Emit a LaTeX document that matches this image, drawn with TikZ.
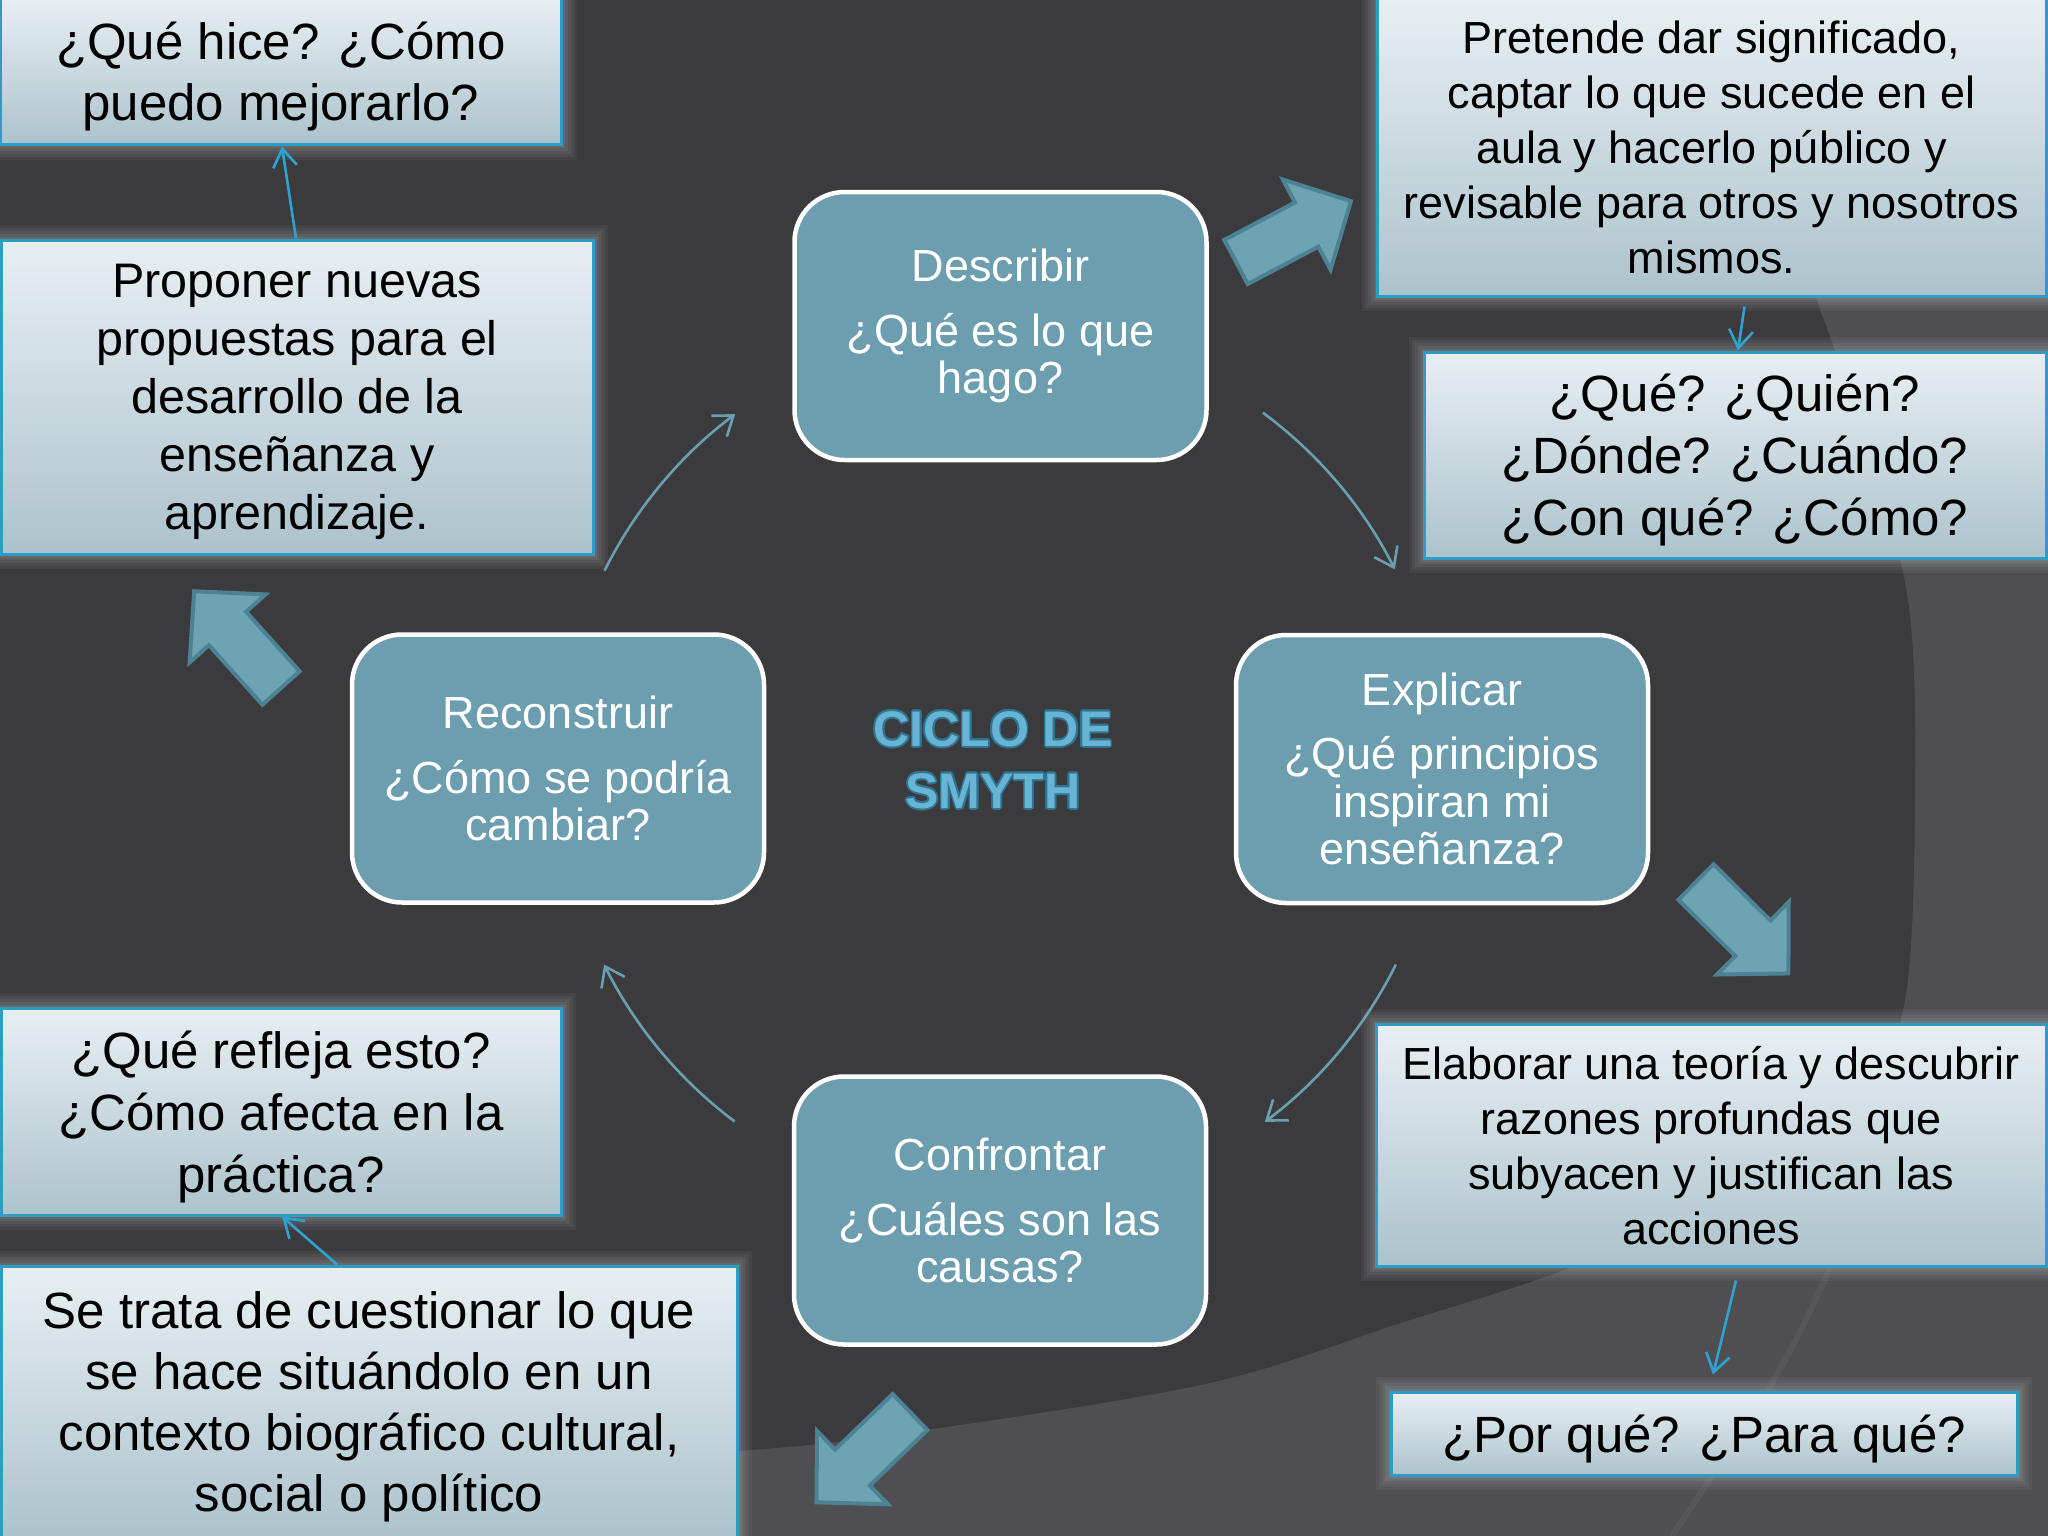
\documentclass[tikz,border=0pt]{standalone}
\usepackage{fontspec}
\setmainfont{Liberation Sans}
\usepackage{contour}
\contourlength{1.6pt}
\usetikzlibrary{arrows.meta,calc}

\definecolor{bgdark}{HTML}{3B3A3C}
\definecolor{bglight}{HTML}{4F4E51}
\definecolor{cyclefill}{HTML}{6C9EB0}
\definecolor{blockfill}{HTML}{6EA3B4}
\definecolor{blockedge}{HTML}{4C8293}
\definecolor{cyclearrow}{HTML}{6A9FB2}
\definecolor{linkblue}{HTML}{2EA3D2}
\definecolor{boxedge}{HTML}{2F9CC6}
\definecolor{glowgray}{HTML}{B4B6B9}
\definecolor{lb0}{HTML}{DAE6EB}
\definecolor{lb1}{HTML}{A6BDC8}
\definecolor{lb2}{HTML}{A9C0CA}
\definecolor{lb3}{HTML}{E2EBEF}
\definecolor{lb4}{HTML}{FDFEFE}
\definecolor{titleblue}{HTML}{67B4D4}
\definecolor{titleedge}{HTML}{2F7592}

\pgfdeclareverticalshading{lboxshade}{100bp}{color(0bp)=(lb0); color(7bp)=(lb1); color(22bp)=(lb2); color(70bp)=(lb3); color(100bp)=(lb4)}

\tikzset{
  lightbox/.style={rectangle, draw=boxedge, line width=3pt, shade, shading=lboxshade,
    align=center, inner sep=0pt, text=black, text depth=0pt,
    preaction={draw=glowgray, draw opacity=0.08, line width=30pt},
    preaction={draw=glowgray, draw opacity=0.08, line width=24pt},
    preaction={draw=glowgray, draw opacity=0.09, line width=18pt},
    preaction={draw=glowgray, draw opacity=0.10, line width=12pt},
    preaction={draw=glowgray, draw opacity=0.12, line width=7pt}},
  cyclebox/.style={rectangle, rounded corners=50pt, draw=white, line width=4.5pt,
    fill=cyclefill, text=white, align=center, inner sep=0pt,
    minimum width=412pt, minimum height=268pt, font=\fontsize{45}{47.5}\selectfont},
  cyclink/.style={draw=cyclearrow, line width=2.6pt,
    -{Straight Barb[length=18pt,width=26pt]}},
  boxlink/.style={draw=linkblue, line width=2.6pt,
    -{Straight Barb[length=18pt,width=24pt]}},
  bigarrow/.style={fill=blockfill, draw=blockedge, line width=4pt, line join=miter}
}

\newcommand\bigarrowat[2]{%
  \draw[bigarrow, shift={#1}, rotate=#2]
    (0,-25) -- (80,-25) -- (80,-51) -- (130,0) -- (80,51) -- (80,25) -- (0,25) -- cycle;}

\begin{document}
\begin{tikzpicture}[x=1pt,y=1pt]
\useasboundingbox (0,0) rectangle (2048,-1536);
% background
\fill[bgdark] (0,0) rectangle (2048,-1536);
\fill[bglight] plot[smooth, tension=0.55] coordinates {(0,-1478) (400,-1468) (738,-1451)
  (926,-1430) (1210,-1383) (1401,-1323) (1570,-1268) (1750,-1190) (1860,-1100)
  (1905,-1000) (1915,-800) (1908,-600) (1860,-420) (1817,-300) (1760,-120) (1735,0)}
  -- (2048,0) -- (2048,-1536) -- (0,-1536) -- cycle;
\draw[white, opacity=0.05, line width=6pt] (1860,-1200) .. controls (1790,-1360) .. (1672,-1536);

% cycle centre and arcs
\coordinate (cyc) at (1000,-768);
\coordinate (c1) at ($(cyc)+(153.5:442)$);
\coordinate (c2) at ($(cyc)+(53.5:442)$);
\coordinate (c3) at ($(cyc)+(-26.4:442)$);
\coordinate (c4) at ($(cyc)+(-126.9:442)$);
\draw[cyclink] (c1) arc[start angle=153.5, end angle=126.8, radius=442];
\draw[cyclink] (c2) arc[start angle=53.5, end angle=26.7, radius=442];
\draw[cyclink] (c3) arc[start angle=-26.4, end angle=-53.2, radius=442];
\draw[cyclink] (c4) arc[start angle=-126.9, end angle=-153.6, radius=442];

% block arrows
\bigarrowat{(1236,-262)}{27.9}
\bigarrowat{(281,-688)}{131.9}
\bigarrowat{(1696,-882)}{-44.7}
\bigarrowat{(910,-1412)}{-136}

% light boxes
\node[lightbox, minimum width=561pt, minimum height=148pt, font=\fontsize{51}{61}\selectfont]
  (hice) at (281,-71) {¿Qué hice? ¿Cómo\\puedo mejorarlo?};
\node[lightbox, minimum width=592pt, minimum height=314pt, font=\fontsize{48.5}{58}\selectfont]
  (prop) at (297,-397) {Proponer nuevas\\propuestas para el\\desarrollo de la\\enseñanza y\\aprendizaje.};
\node[lightbox, minimum width=669pt, minimum height=298pt, font=\fontsize{45}{55}\selectfont]
  (pret) at (1711.5,-147) {Pretende dar significado,\\captar lo que sucede en el\\aula y hacerlo público y\\revisable para otros y nosotros\\mismos.};
\node[lightbox, minimum width=622pt, minimum height=206pt, font=\fontsize{51}{62}\selectfont]
  (quien) at (1735,-455) {¿Qué? ¿Quién?\\¿Dónde? ¿Cuándo?\\¿Con qué? ¿Cómo?};
\node[lightbox, minimum width=670pt, minimum height=242pt, font=\fontsize{45}{55}\selectfont]
  (elab) at (1711,-1145) {Elaborar una teoría y descubrir\\razones profundas que\\subyacen y justifican las\\acciones};
\node[lightbox, minimum width=626pt, minimum height=83pt, font=\fontsize{51}{61}\selectfont]
  (porque) at (1704,-1433.5) {¿Por qué? ¿Para qué?};
\node[lightbox, minimum width=560pt, minimum height=207pt, font=\fontsize{51}{62}\selectfont]
  (refleja) at (281,-1111.5) {¿Qué refleja esto?\\¿Cómo afecta en la\\práctica?};
\node[lightbox, minimum width=736pt, minimum height=272pt, font=\fontsize{51}{61}\selectfont]
  (trata) at (369,-1402) {Se trata de cuestionar lo que\\se hace situándolo en un\\contexto biográfico cultural,\\social o político};

% links between light boxes
\draw[boxlink] ([xshift=-1pt]prop.north) -- ([xshift=1pt]hice.south);
\draw[boxlink] ([xshift=33pt,yshift=-9pt]pret.south) -- ([xshift=3pt]quien.north);
\draw[boxlink] ([xshift=25pt,yshift=-13pt]elab.south) -- ([xshift=9pt,yshift=16pt]porque.north);
\draw[boxlink] ([xshift=-32pt]trata.north) -- ([xshift=1pt]refleja.south);

% cycle nodes
\node[cyclebox] (desc) at (1000.5,-326) {Describir\\[17pt]¿Qué es lo que\\hago?};
\node[cyclebox] (expl) at (1442,-769) {Explicar\\[17pt]¿Qué principios\\inspiran mi\\enseñanza?};
\node[cyclebox] (conf) at (1000,-1210.5) {Confrontar\\[17pt]¿Cuáles son las\\causas?};
\node[cyclebox] (reco) at (558,-768.5) {Reconstruir\\[17pt]¿Cómo se podría\\cambiar?};

% title
\node[font=\fontsize{50}{62}\selectfont\bfseries, text=titleblue, align=center, inner sep=0pt]
  (title) at (993,-761) {\contour{titleedge}{CICLO DE}\\\contour{titleedge}{SMYTH}};
\end{tikzpicture}
\end{document}
